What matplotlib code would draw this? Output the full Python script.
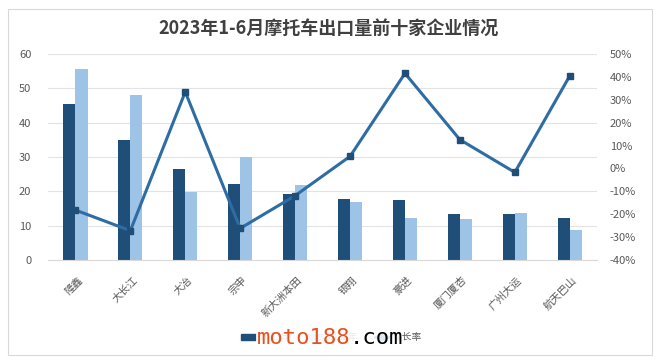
import matplotlib
matplotlib.use("Agg")
import matplotlib.pyplot as plt
from matplotlib.patches import Rectangle
from matplotlib.lines import Line2D
from matplotlib.patches import Patch
import numpy as np

plt.rcParams['font.family'] = ['Noto Sans CJK SC', 'DejaVu Sans']

# data (10k units / growth %)
companies = ['隆鑫', '大长江', '大冶', '宗申', '新大洲本田', '银翔', '豪进', '厦门厦杏', '广州大运', '航天巴山']
sales_2023 = [45.6, 35.0, 26.4, 22.1, 19.1, 17.7, 17.4, 13.3, 13.3, 12.3]
sales_2022 = [55.6, 48.1, 19.7, 29.9, 21.7, 16.8, 12.3, 11.9, 13.6, 8.7]
growth = [-18.2, -27.2, 33.5, -26.2, -11.9, 5.3, 41.6, 12.6, -1.7, 40.5]
legend_labels = ['2023年', '2022年', '增长率']

c_dark = '#1F4E79'
c_light = '#9DC3E6'
c_line = '#2E6DA4'
c_text = '#595959'
c_grid = '#E3E3E3'

fig = plt.figure(figsize=(6.57, 3.61), dpi=100)
ax = fig.add_axes([0.073, 0.280, 0.836, 0.570])

x = np.arange(len(companies))
w = 0.22
ax.bar(x - w / 2, sales_2023, w, color=c_dark, zorder=2)
ax.bar(x + w / 2, sales_2022, w, color=c_light, zorder=2)

ax.set_xlim(-0.5, len(companies) - 0.5)
ax.set_ylim(0, 60)
ax.set_yticks(range(0, 61, 10))
ax.grid(axis='y', color=c_grid, linewidth=0.8, zorder=0)
for s in ['top', 'right', 'left']:
    ax.spines[s].set_visible(False)
ax.spines['bottom'].set_color('#D9D9D9')
ax.tick_params(axis='both', length=0, colors=c_text, labelsize=8)
ax.tick_params(axis='y', pad=12)
ax.set_xticks(x)
ax.set_xticklabels(companies, rotation=45, ha='right', va='top',
                   rotation_mode='anchor', fontsize=7.5)
for lbl in ax.get_xticklabels():
    lbl.set_transform(lbl.get_transform() + matplotlib.transforms.ScaledTranslation(0.02, -0.10, fig.dpi_scale_trans))

ax2 = ax.twinx()
ax2.plot(x, growth, color=c_line, linewidth=2.2, marker='s', markersize=4,
         markerfacecolor=c_dark, markeredgecolor=c_dark, zorder=3)
ax2.set_ylim(-40, 50)
ax2.set_yticks(range(-40, 51, 10))
ax2.set_yticklabels([f'{v}%' for v in range(-40, 51, 10)])
for s in ['top', 'right', 'left', 'bottom']:
    ax2.spines[s].set_visible(False)
ax2.tick_params(axis='y', length=0, colors=c_text, labelsize=8, pad=9)

fig.text(0.50, 0.922, '2023年1-6月摩托车出口量前十家企业情况', ha='center', va='center',
         fontsize=13, fontweight='bold', color='#404040')

handles = [Patch(color=c_dark), Patch(color=c_light),
           Line2D([0], [0], color=c_line, lw=2.2, marker='s', markersize=4,
                  markerfacecolor=c_dark, markeredgecolor=c_dark)]
fig.legend(handles, legend_labels, loc='center',
           bbox_to_anchor=(0.505, 0.066), ncol=3, frameon=False, fontsize=7,
           labelcolor=c_text, handlelength=1.55, handleheight=0.6,
           handletextpad=0.3, columnspacing=1.8)

# watermark, pasted over the legend
fig.patches.append(Rectangle((256 / 657, 0.036), 146 / 657, 0.055, transform=fig.transFigure,
                             facecolor='white', edgecolor='none', alpha=0.88, zorder=8))
fig.text(0.533, 0.064, 'moto188', ha='right', va='center', fontsize=16,
         family='DejaVu Sans Mono', color='#E8501E', zorder=10)
fig.text(0.533, 0.064, '.com', ha='left', va='center', fontsize=16,
         family='DejaVu Sans Mono', color='black', zorder=10)

fig.patches.append(Rectangle((8 / 657, 6 / 361), 644 / 657, 346 / 361, transform=fig.transFigure,
                             fill=False, edgecolor='#D9D9D9', linewidth=0.8))

fig.savefig('out.png', dpi=100, facecolor='white')
